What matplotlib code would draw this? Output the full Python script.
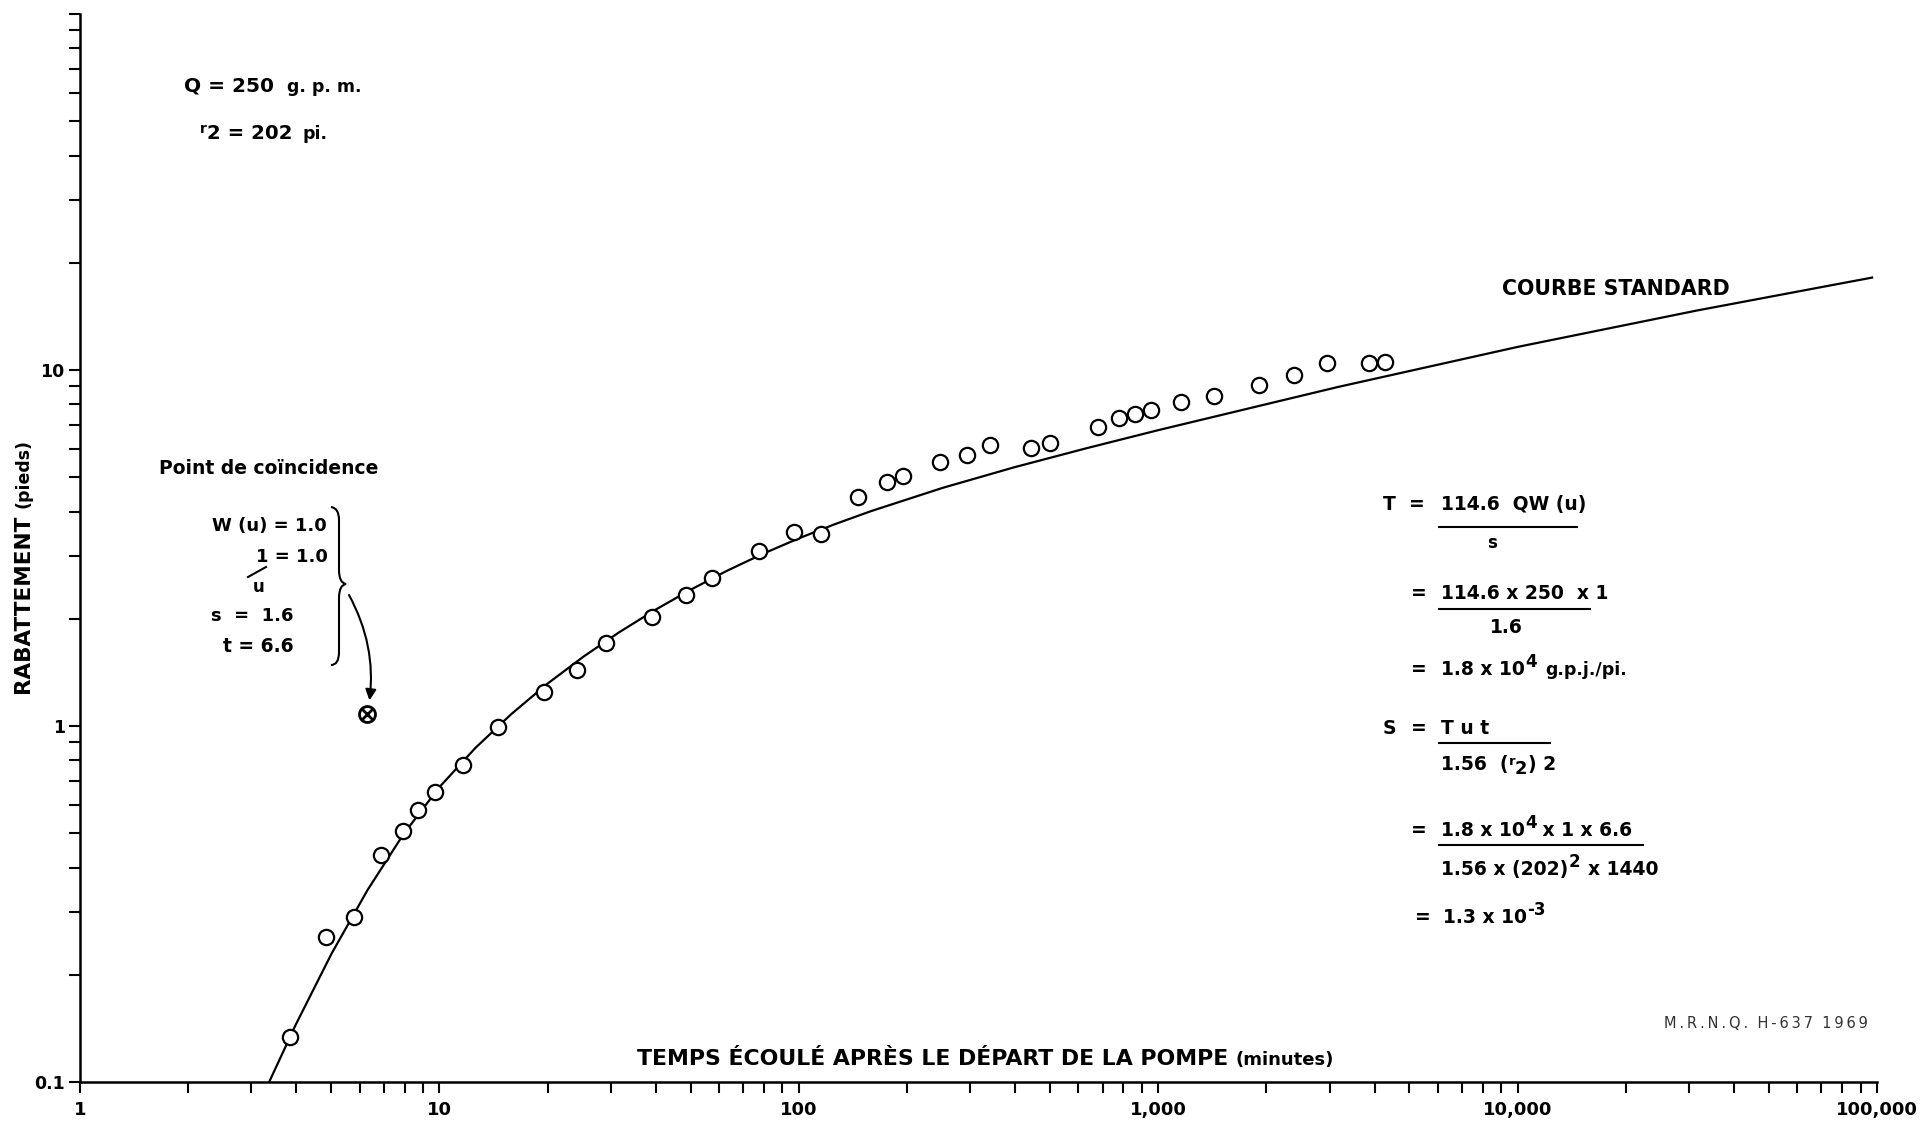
import matplotlib
matplotlib.use("Agg")
import matplotlib.pyplot as plt
from matplotlib.path import Path
from matplotlib.patches import PathPatch
from matplotlib.lines import Line2D
from matplotlib.ticker import FixedLocator, FixedFormatter, LogLocator, NullFormatter

plt.rcParams['font.family'] = ['DejaVu Sans']
plt.rcParams['font.weight'] = 'bold'

# Observed drawdown: elapsed time (minutes) and drawdown (feet)
temps_min = [3.84, 4.84, 5.8, 6.9, 7.9, 8.73, 9.7, 11.65, 14.6, 19.5, 24.1, 29.0,
             39.1, 48.4, 57.5, 77.6, 97.2, 115, 146, 175.6, 195.4, 247, 293, 340,
             444, 500, 678, 779, 862, 952, 1157, 1432, 1911, 2393, 2950, 3852, 4266]
rabattement_pi = [0.134, 0.256, 0.291, 0.433, 0.506, 0.579, 0.651, 0.779, 0.994, 1.25,
                  1.434, 1.712, 2.03, 2.33, 2.60, 3.10, 3.51, 3.47, 4.40, 4.85, 5.05,
                  5.52, 5.78, 6.16, 6.04, 6.24, 6.92, 7.32, 7.54, 7.70, 8.12, 8.44,
                  9.10, 9.71, 10.45, 10.45, 10.53]

# Type curve (courbe standard) traced on the data sheet
courbe_t = [3.36, 3.98, 5.01, 6.31, 7.94, 10.0, 12.59, 15.85, 19.95, 25.12, 31.62,
            39.81, 50.12, 63.1, 79.4, 100, 125.9, 158.5, 251.2, 398.1, 631, 1000,
            3162, 10000, 31620, 96900]
courbe_s = [0.100, 0.1446, 0.2293, 0.3461, 0.4964, 0.6734, 0.8675, 1.080, 1.313,
            1.564, 1.833, 2.118, 2.417, 2.729, 3.045, 3.366, 3.688, 4.011, 4.665,
            5.332, 6.027, 6.776, 8.959, 11.61, 14.70, 18.18]

# Match point position on the sheet
point_coinc_t = [6.3]
point_coinc_s = [1.08]

x_ticks = [1, 10, 100, 1000, 10000, 100000]
x_tick_labels = ["1", "10", "100", "1,000", "10,000", "100,000"]
y_ticks = [0.1, 1, 10, 100]
y_tick_labels = ["0.1", "1", "10", ""]

W, H = 1921, 1124
fig = plt.figure(figsize=(W / 100, H / 100), dpi=100)
fig.patch.set_facecolor("white")


def fx(px):
    return px / W


def fy(py):
    return 1 - py / H


ax = fig.add_axes([fx(80), fy(1082), (1877 - 80) / W, (1082 - 14) / H])
ax.set_xscale("log")
ax.set_yscale("log")
ax.set_xlim(1, 100000)
ax.set_ylim(0.1, 100)
for side in ("top", "right"):
    ax.spines[side].set_visible(False)
for side in ("left", "bottom"):
    ax.spines[side].set_linewidth(1.8)

ax.xaxis.set_major_locator(FixedLocator(x_ticks))
ax.xaxis.set_major_formatter(FixedFormatter(x_tick_labels))
ax.yaxis.set_major_locator(FixedLocator(y_ticks))
ax.yaxis.set_major_formatter(FixedFormatter(y_tick_labels))
ax.xaxis.set_minor_locator(LogLocator(base=10, subs=range(2, 10)))
ax.yaxis.set_minor_locator(LogLocator(base=10, subs=range(2, 10)))
ax.xaxis.set_minor_formatter(NullFormatter())
ax.yaxis.set_minor_formatter(NullFormatter())
ax.tick_params(axis="both", which="both", direction="out", width=1.5, color="black")
ax.tick_params(axis="both", which="major", length=8)
ax.tick_params(axis="both", which="minor", length=8)
ax.tick_params(axis="x", which="major", labelsize=13, pad=6)
ax.tick_params(axis="y", which="major", labelsize=12.5, pad=3)

# Type curve and observations
ax.plot(courbe_t, courbe_s, color="black", lw=1.6, zorder=2,
        solid_joinstyle="round")
ax.plot(temps_min, rabattement_pi, linestyle="none", marker="o", ms=11,
        mfc="white", mec="black", mew=1.6, zorder=3)
ax.plot(point_coinc_t, point_coinc_s, linestyle="none", marker="o", ms=11.5,
        mfc="white", mec="black", mew=2.0, zorder=3)
ax.plot(point_coinc_t, point_coinc_s, linestyle="none", marker="x", ms=7,
        mec="black", mew=2.0, zorder=4)

renderer = fig.canvas.get_renderer()


def write_run(x, y, pieces, rotation=0, color="black", weight="bold"):
    """Write consecutive text pieces (text, size, rise, gap) from pixel position x, baseline y."""
    for s, size, rise, gap in pieces:
        if rotation == 0:
            t = fig.text(fx(x), fy(y - rise), s, fontsize=size, ha="left",
                         va="baseline", color=color, weight=weight)
            x += t.get_window_extent(renderer).width + gap
        else:
            t = fig.text(fx(x - rise), fy(y), s, fontsize=size, ha="left",
                         va="baseline", rotation=90, rotation_mode="anchor",
                         color=color, weight=weight)
            y -= t.get_window_extent(renderer).height + gap
    return x


def hline(x0, x1, y, lw=1.5):
    fig.add_artist(Line2D([fx(x0), fx(x1)], [fy(y), fy(y)], color="black", lw=lw,
                          transform=fig.transFigure))


# Axis titles
write_run(637, 1065, [("TEMPS ÉCOULÉ APRÈS LE DÉPART DE LA POMPE", 15.8, 0, 7),
                      ("(minutes)", 13, 0, 0)])
write_run(29, 693, [("RABATTEMENT", 15.5, 0, 7), ("(pieds)", 12.5, 0, 0)], rotation=90)

# Pumping data
write_run(184, 92, [("Q = 250", 14.5, 0, 13), ("g. p. m.", 12.5, 0, 0)])
write_run(200, 139, [("r", 10, 6, 0), ("2 = 202", 14.2, 0, 10), ("pi.", 12.5, 0, 0)])

write_run(1502, 295, [("COURBE STANDARD", 14.8, 0, 0)])

# Drawing reference, set with open letter spacing
mrnq = "\u2009".join("M.R.N.Q.") + "  " + "\u2009".join("H-637") + "  " + "\u2009".join("1969")
write_run(1664, 1028, [(mrnq, 10.5, 0, 0)], color="#333333", weight="normal")

# Match point
write_run(159, 474, [("Point de coïncidence", 13.5, 0, 0)])
write_run(212, 531, [("W (u) = 1.0", 13, 0, 0)])
write_run(256, 562, [("1 = 1.0", 13, 0, 0)])
fig.add_artist(Line2D([fx(248), fx(266)], [fy(577), fy(567)], color="black", lw=1.5,
                      transform=fig.transFigure))
write_run(253, 592, [("u", 12, 0, 0)])
write_run(211, 621, [("s  =  1.6", 13, 0, 0)])
write_run(223, 652, [("t = 6.6", 13.5, 0, 0)])

brace_px = [(331, 507), (339, 508), (339, 520), (339, 570), (339, 583), (346, 584),
            (339, 585), (339, 598), (339, 652), (339, 665), (331, 665)]
brace_codes = [Path.MOVETO, Path.CURVE3, Path.CURVE3, Path.LINETO, Path.CURVE3,
               Path.CURVE3, Path.CURVE3, Path.CURVE3, Path.LINETO, Path.CURVE3,
               Path.CURVE3]
brace = Path([(fx(a), fy(b)) for a, b in brace_px], brace_codes)
fig.add_artist(PathPatch(brace, facecolor="none", edgecolor="black", lw=1.5,
                         transform=fig.transFigure))

ax.annotate("", xy=(point_coinc_t[0], point_coinc_s[0]), xycoords="data",
            xytext=(349, H - 595), textcoords="figure pixels",
            arrowprops=dict(arrowstyle="-|>", color="black", lw=1.5,
                            mutation_scale=16, shrinkA=0, shrinkB=10,
                            connectionstyle="arc3,rad=-0.18"))

# Transmissivity and storage computation
EQ = 13.5
write_run(1383, 510, [("T", EQ, 0, 0)])
write_run(1409, 510, [("=", EQ, 0, 0)])
write_run(1441, 510, [("114.6  QW (u)", EQ, 0, 0)])
hline(1439, 1577, 527)
write_run(1487, 548, [("s", 12, 0, 0)])

write_run(1411, 599, [("=", EQ, 0, 0)])
write_run(1441, 599, [("114.6 x 250  x 1", EQ, 0, 0)])
hline(1439, 1590, 609)
write_run(1490, 633, [("1.6", EQ, 0, 0)])

write_run(1411, 675, [("=", EQ, 0, 0)])
write_run(1441, 675, [("1.8 x 10", EQ, 0, 0), ("4", 12, 8, 9), ("g.p.j./pi.", 12.5, 0, 0)])

write_run(1383, 734, [("S", EQ, 0, 0)])
write_run(1411, 734, [("=", EQ, 0, 0)])
write_run(1441, 734, [("T u t", EQ, 0, 0)])
hline(1439, 1550, 743)
write_run(1441, 770, [("1.56  (", EQ, 0, 0), ("r", 9.5, 5, 0), ("2", 13, -4, 0),
                      (") 2", EQ, 0, 0)])

write_run(1411, 836, [("=", EQ, 0, 0)])
write_run(1441, 836, [("1.8 x 10", EQ, 0, 0), ("4", 12, 8, 0), (" x 1 x 6.6", EQ, 0, 0)])
hline(1439, 1643, 845)
write_run(1441, 875, [("1.56 x (202)", EQ, 0, 0), ("2", 12, 8, 8), ("x 1440", EQ, 0, 0)])

write_run(1415, 923, [("=", EQ, 0, 0)])
write_run(1443, 923, [("1.3 x 10", EQ, 0, 0), ("-3", 12, 8, 0)])

fig.savefig("out.png", dpi=100, facecolor="white")
